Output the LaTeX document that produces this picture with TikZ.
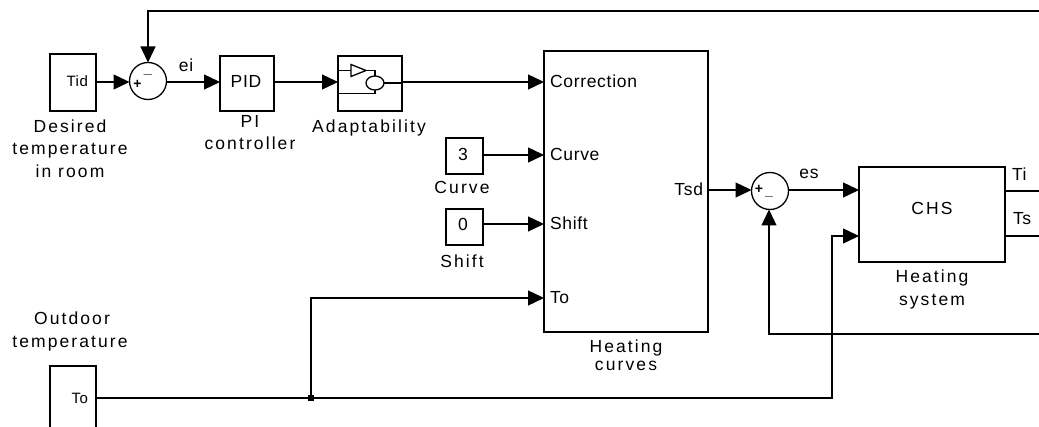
\documentclass[tikz,border=0pt]{standalone}
\usepackage{fontspec}
\setmainfont{Liberation Sans}
\newfontfamily\portfont[LetterSpace=4]{Liberation Sans}
\newfontfamily\namefont[LetterSpace=12]{Liberation Sans}
\usetikzlibrary{arrows.meta,shapes.geometric}
\tikzset{
  x=1pt, y=-1pt,
  every node/.style={inner sep=0pt, outer sep=0pt, font=\portfont\fontsize{17.5}{20}\selectfont},
  blk/.style={draw, line width=1.3pt, inner sep=0pt, fill=white},
  sumc/.style={draw, circle, line width=1.3pt, minimum size=37pt},
  wire/.style={line width=1.3pt},
  arr/.style={line width=1.3pt, -{Triangle[length=16pt,width=15pt]}},
  txt/.style={anchor=base},
  nm/.style={anchor=base, font=\namefont\fontsize{17.5}{20}\selectfont},
  sgn/.style={font=\fontsize{14}{14}\selectfont\bfseries},
}
\begin{document}
\begin{tikzpicture}
\clip (0,0) rectangle (1039,427);
\fill[white] (0,0) rectangle (1039,427);
% blocks
\node[blk, minimum width=46pt, minimum height=57pt] (tid) at (73,82.5) {};
\node[txt, anchor=base east, font=\portfont\fontsize{15}{18}\selectfont] (tidt) at (88,87) {Tid};
\node[sumc] (s1) at (148,81) {};
\node[sgn] (s1p) at (137.5,84) {+};
\node[sgn] (s1m) at (148,75) {$-$};
\node[blk, minimum width=54pt, minimum height=55pt] (pid) at (247,83.5) {};
\node[txt] (pidt) at (246,88) {PID};
\node[blk, minimum width=64pt, minimum height=55pt] (ad) at (370,83.5) {};
\node[blk, minimum width=164pt, minimum height=281pt] (hc) at (626,191.5) {};
\node[blk, minimum width=37pt, minimum height=36pt] (c3) at (464.5,156) {};
\node[txt] (c3t) at (463,161) {3};
\node[blk, minimum width=37pt, minimum height=36pt] (c0) at (464.5,227) {};
\node[txt] (c0t) at (463,231) {0};
\node[sumc] (s2) at (770,191) {};
\node[sgn] (s2p) at (759,189) {+};
\node[sgn] (s2m) at (769,196) {\_};
\node[blk, minimum width=146pt, minimum height=95pt] (chs) at (932,214.5) {};
\node[nm] (chst) at (932,215) {CHS};
\node[blk, minimum width=46pt, minimum height=80pt] (to) at (73,406) {};
\node[txt, anchor=base east, font=\portfont\fontsize{15}{18}\selectfont] (tot) at (88,404) {To};
% adaptability icon
\coordinate (adin1) at (338,70.5);
\coordinate (adin2) at (338,93.5);
\node[draw, line width=1.3pt, ellipse, minimum width=18pt, minimum height=14pt] (adc) at (375,83) {};
\draw[wire, line join=miter] (351,64.5) -- (366,70.5) -- (351,76.5) -- cycle;
\draw[wire] (adin1) -- (351,70.5);
\draw[wire] (366,70.5) -- (375,70.5) -- (adc.north);
\draw[wire] (adin2) -- (375,93.5) -- (adc.south);
\draw[wire] (adc.east) -- (ad.east |- adc.east);
% port labels
\node[txt, anchor=base west] (pcor) at (550,88) {Correction};
\node[txt, anchor=base west] (pcur) at (550,161) {Curve};
\node[txt, anchor=base west] (pshf) at (550,230) {Shift};
\node[txt, anchor=base west] (pto) at (550,304) {To};
\node[txt, anchor=base east] (ptsd) at (703,196) {Tsd};
\node[txt, anchor=base west] (pti) at (1012,181) {Ti};
\node[txt, anchor=base west] (pts) at (1013,225) {Ts};
% block names
\node[nm] (l1a) at (70,133) {Desired};
\node[nm] (l1b) at (70,155) {temperature};
\node[nm] (l1c) at (70,178) {in room};
\node[nm] (l2a) at (250,128) {PI};
\node[nm] (l2b) at (250,150) {controller};
\node[nm] (l3) at (369,133) {Adaptability};
\node[nm] (l4) at (462,194) {Curve};
\node[nm] (l5) at (462,268) {Shift};
\node[nm] (l6a) at (626,353) {Heating};
\node[nm] (l6b) at (626,371) {curves};
\node[nm] (l7a) at (932,283) {Heating};
\node[nm] (l7b) at (932,306) {system};
\node[nm] (l8a) at (72,325) {Outdoor};
\node[nm] (l8b) at (70,348) {temperature};
\node[txt] (lei) at (186,72) {ei};
\node[txt] (les) at (809,179) {es};
% connector coordinates
\coordinate (topR) at (1045,11);
\coordinate (topL) at (148,11);
\coordinate (botR) at (1045,334);
\coordinate (botL) at (769,334);
\coordinate (tiR) at (1045,191);
\coordinate (tsR) at (1045,236);
\coordinate (jn) at (311,398);
\coordinate (tocorner) at (832,398);
% connectors
\draw[arr] (tid.east |- 0,82) -- (s1.west |- 0,82);
\draw[arr] (topR) -- (topL) -- (s1.north);
\draw[arr] (s1.east |- 0,82) -- (pid.west |- 0,82);
\draw[arr] (pid.east |- 0,82) -- (ad.west |- 0,82);
\draw[arr] (ad.east |- 0,82) -- (hc.west |- 0,82);
\draw[arr] (c3.east |- 0,155) -- (hc.west |- 0,155);
\draw[arr] (c0.east |- 0,224) -- (hc.west |- 0,224);
\draw[arr] (hc.east |- 0,190) -- (s2.west |- 0,190);
\draw[arr] (s2.east |- 0,190) -- (chs.west |- 0,190);
\draw[wire] (chs.east |- 0,191) -- (tiR);
\draw[wire] (chs.east |- 0,236) -- (tsR);
\draw[arr] (botR) -- (botL) -- (s2.south -| botL);
\draw[arr] (to.east |- jn) -- (tocorner) -- (832,236) -- (chs.west |- 0,236);
\draw[arr] (jn) -- (311,298) -- (hc.west |- 0,298);
\fill (jn) +(-3,-3) rectangle +(3,3);
\end{tikzpicture}
\end{document}
